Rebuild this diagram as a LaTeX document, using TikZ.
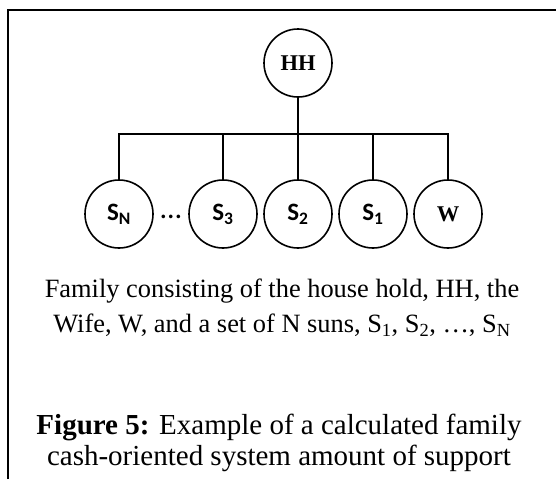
\documentclass[tikz,border=0pt]{standalone}
\usepackage{fontspec}
\setmainfont{Liberation Serif}
\newfontfamily\calibrilike{Carlito}
\usetikzlibrary{positioning}

\begin{document}
\begin{tikzpicture}[x=1pt,y=-1pt,line width=1.6pt,
		member/.style={draw,circle,minimum size=68pt,inner sep=0pt,font=\fontsize{22.5}{22.5}\selectfont\bfseries},
		son/.style={member,font=\fontsize{25}{25}\selectfont\calibrilike\bfseries},
		caption/.style={align=center,font=\fontsize{26.4}{35}\selectfont}]
	\useasboundingbox (0,0) rectangle (556,479);
	% open frame, top and left only
	\draw[line width=2pt] (8,479) -- (8,10) -- (557,10);
	% household and the family members
	\node[member] (hh) at (298,63) {HH};
	\node[son] (sN) at (119,214) {S\textsubscript{N}};
	\node[son] (s3) at (223,214) {S\textsubscript{3}};
	\node[son] (s2) at (298,214) {S\textsubscript{2}};
	\node[son] (s1) at (373,214) {S\textsubscript{1}};
	\node[member] (w) at (448,214) {W};
	\node[font=\fontsize{30}{30}\selectfont\calibrilike] (dots) at (171,217) {…};
	\coordinate (bus) at (298,134);
	\draw (hh) -- (s2);
	\draw (sN.north) -- (sN.north |- bus) -| (w.north);
	\draw (s3.north) -- (s3.north |- bus);
	\draw (s1.north) -- (s1.north |- bus);
	% texts below
	\node[caption] (note) at (282,308) {Family consisting of the house hold, HH, the\\Wife, W, and a set of N suns, S\textsubscript{1}, S\textsubscript{2}, …, S\textsubscript{N}};
	\node[caption,font=\fontsize{29}{31}\selectfont] (fig) at (279,443) {\textbf{Figure 5:} Example of a calculated family\\cash-oriented system amount of support};
\end{tikzpicture}
\end{document}
